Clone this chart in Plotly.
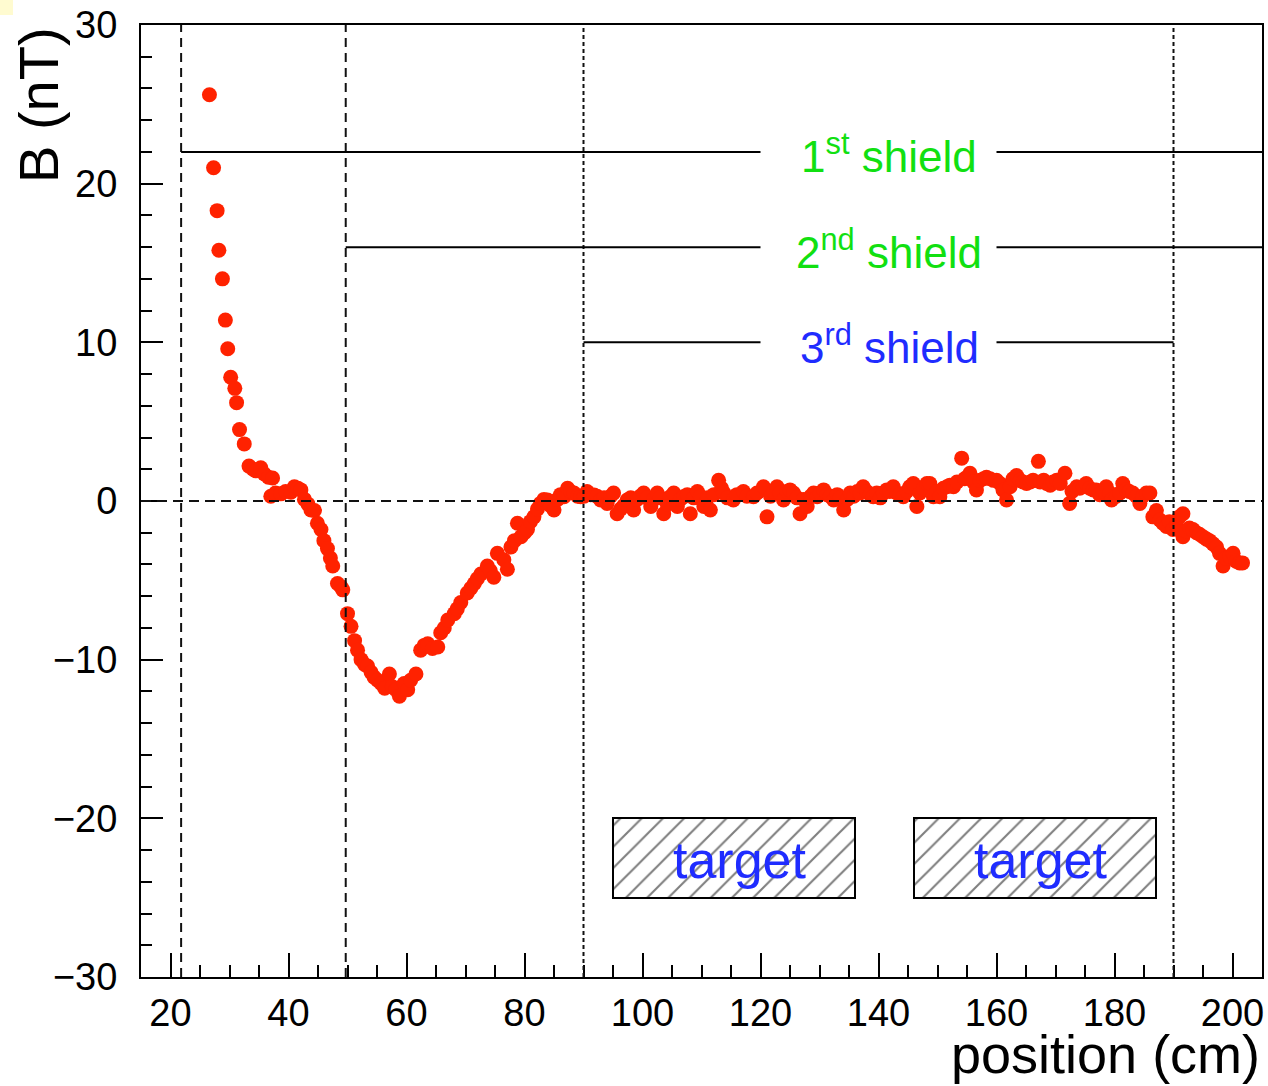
import plotly.graph_objects as go

# ---------------- data ----------------
position = [26.6, 27.3, 27.9, 28.2, 28.8, 29.3, 29.7, 30.2, 30.9, 31.2, 31.7, 32.5, 33.3, 34.0, 34.5,
            35.3, 35.9, 36.6, 37.3, 37.0, 37.8, 38.7, 39.5, 40.4, 41.0, 41.6, 42.1, 42.7, 43.3, 43.8,
            44.4, 44.9, 45.5, 46.0, 46.6, 47.1, 47.5, 48.3, 48.9, 49.2, 50.0, 50.6, 51.2, 51.7, 52.3,
            52.9, 53.4, 54.0, 54.5, 55.1, 55.7, 56.3, 57.1, 57.6, 58.2, 58.8, 59.6, 60.2, 60.7, 61.6,
            62.4, 63.0, 63.6, 64.4, 65.3, 65.8, 66.4, 67.0, 68.1, 68.6, 69.2, 70.3, 70.9, 71.5, 72.0,
            72.6, 73.7, 74.2, 74.8, 75.4, 76.5, 77.1, 77.7, 78.3, 78.8, 79.4, 80.0, 80.5, 81.0, 81.6,
            82.2, 82.7, 83.3, 83.9, 84.4, 85.0, 85.6, 86.1, 86.7, 87.3, 87.8, 88.4, 89.0, 89.5, 90.1,
            90.6, 91.2, 91.8, 92.3, 92.9, 93.5, 94.0, 94.6, 95.1, 95.7, 96.3, 96.8, 97.4, 98.0, 98.5,
            99.1, 99.6, 100.2, 100.8, 101.4, 101.9, 102.5, 103.0, 103.6, 104.2, 104.7, 105.3, 105.9,
            106.4, 107.0, 107.6, 108.1, 108.7, 109.3, 109.8, 110.4, 111.0, 111.5, 112.1, 112.9, 113.4,
            113.8, 114.4, 115.4, 116.0, 117.1, 117.7, 118.8, 119.4, 120.5, 121.1, 121.7, 122.2, 122.8,
            123.3, 123.9, 124.5, 125.0, 125.6, 126.2, 126.7, 127.3, 127.9, 128.5, 129.0, 129.6, 130.1,
            130.7, 131.3, 131.8, 132.4, 133.0, 133.5, 134.1, 134.7, 135.2, 135.8, 136.4, 136.9, 137.4,
            138.0, 138.6, 139.1, 139.7, 140.3, 140.8, 141.4, 141.9, 142.5, 143.1, 143.6, 144.2, 144.8,
            145.3, 145.9, 146.5, 147.0, 147.6, 148.2, 148.7, 149.3, 149.9, 150.4, 151.0, 151.6, 152.1,
            152.7, 153.3, 154.1, 154.6, 155.0, 155.5, 156.1, 156.6, 157.2, 157.8, 158.3, 158.9, 159.5,
            160.0, 160.6, 161.1, 161.7, 162.3, 162.8, 163.4, 164.0, 164.5, 165.1, 165.7, 166.2, 167.1,
            167.4, 168.0, 168.5, 169.1, 169.6, 170.2, 170.8, 171.6, 172.4, 172.8, 173.6, 174.1, 174.7,
            175.2, 175.8, 176.4, 176.9, 177.5, 178.1, 178.6, 179.2, 179.5, 180.3, 180.9, 181.4, 182.0,
            182.5, 183.1, 183.7, 184.3, 184.8, 185.4, 186.0, 186.5, 187.1, 187.7, 188.2, 188.8, 189.3,
            189.9, 190.5, 191.0, 191.6, 191.6, 192.2, 192.7, 193.3, 193.9, 194.4, 195.0, 195.6, 196.1,
            196.7, 197.3, 197.8, 198.4, 198.9, 199.5, 200.1, 200.6, 201.2, 201.7]
field_nT = [25.6, 21.0, 18.3, 15.8, 14.0, 11.4, 9.6, 7.8, 7.1, 6.2, 4.5, 3.6, 2.2, 2.0, 1.9,
            2.1, 1.7, 1.5, 1.45, 0.3, 0.5, 0.45, 0.6, 0.55, 0.9, 0.8, 0.7, 0.1, -0.2, -0.57,
            -0.6, -1.4, -1.8, -2.5, -3.0, -3.6, -4.1, -5.2, -5.4, -5.6, -7.1, -7.9, -8.8, -9.4, -10.0,
            -10.3, -10.4, -10.8, -11.1, -11.3, -11.5, -11.8, -10.9, -11.7, -11.9, -12.3, -11.5, -11.9, -11.3, -10.9,
            -9.4, -9.1, -9.0, -9.3, -9.2, -8.3, -8.0, -7.5, -7.1, -6.8, -6.4, -5.8, -5.5, -5.2, -4.9,
            -4.6, -4.1, -4.4, -4.8, -3.3, -3.7, -4.3, -2.9, -2.5, -1.4, -2.25, -2.0, -1.8, -1.3, -1.0,
            -0.5, -0.15, 0.1, 0.06, -0.3, -0.57, 0.1, 0.4, 0.27, 0.8, 0.6, 0.5, 0.3, 0.27, 0.3,
            0.6, 0.4, 0.38, 0.3, 0.06, 0.2, -0.15, 0.3, 0.5, -0.8, -0.5, -0.3, 0.06, 0.2, -0.57,
            0.1, 0.3, 0.5, 0.2, -0.35, 0.1, 0.5, 0.2, -0.8, -0.2, 0.27, 0.5, -0.35,
            0.1, 0.27, 0.4, -0.8, 0.2, 0.6, 0.3, -0.35, 0.2, -0.57, 0.4, 1.3, 0.8,
            0.5, 0.2, 0.06, 0.4, 0.6, 0.3, 0.27, 0.5, 0.9, -1.0, 0.3, 0.6, 0.9,
            0.5, 0.06, 0.6, 0.7, 0.5, 0.2, -0.8, 0.1, -0.35, 0.3, 0.5, 0.27, 0.5,
            0.7, 0.4, 0.3, 0.06, 0.4, 0.2, -0.57, 0.1, 0.5, 0.3, 0.6, 0.5, 0.9,
            0.6, 0.4, 0.27, 0.5, 0.2, 0.5, 0.7, 0.6, 0.9, 0.5, 0.4, 0.27, 0.6,
            0.9, 1.1, -0.35, 0.5, 0.8, 1.1, 1.1, 0.27, 0.6, 0.27, 0.8, 0.9, 1.0,
            0.9, 1.2, 2.7, 1.4, 1.5, 1.75, 1.2, 0.7, 1.3, 1.4, 1.5, 1.4, 1.3,
            1.3, 1.1, 0.7, 0.06, 0.9, 1.4, 1.6, 1.3, 1.2, 1.1, 1.2, 1.3, 2.5,
            1.2, 1.3, 1.1, 1.0, 1.2, 1.3, 1.1, 1.75, -0.15, 0.6, 0.9, 0.8, 0.9,
            1.1, 0.8, 0.7, 0.7, 0.4, 0.6, 0.9, 0.5, 0.06, 0.3, 0.5, 1.1, 0.7,
            0.6, 0.5, 0.3, -0.15, 0.3, 0.5, 0.5, -1.0, -0.6, -1.2, -1.4, -1.6, -1.3,
            -1.8, -1.5, -1.0, -0.8, -2.25, -1.9, -1.7, -1.8, -2.0, -2.1, -2.25, -2.4, -2.5,
            -2.7, -2.9, -3.3, -4.1, -3.6, -3.5, -3.3, -3.8, -3.9, -3.9]

# shield boundaries (cm) and shield line levels (nT)
shield_start = [21.8, 49.7, 90.0]
shield_end = [205.0, 205.0, 190.0]
shield_level = [22.0, 16.0, 10.0]
shield_labels = ["1<sup>st</sup> shield", "2<sup>nd</sup> shield", "3<sup>rd</sup> shield"]
shield_colors = ["#11e011", "#11e011", "#1f2cff"]
label_gap = [120.0, 160.0]
vline_pos = [21.8, 49.7, 90.0, 190.0]
vline_dash = ["9px,6px", "9px,6px", "4px,3px", "4px,3px"]

target_lo = [95.0, 146.0]
target_hi = [136.0, 187.0]
target_y = [-25.0, -20.0]

x_range = [15, 205]
y_range = [-30, 30]

fig = go.Figure()

# target boxes (hatched bars)
fig.add_trace(go.Bar(
    x=[(a + b) / 2 for a, b in zip(target_lo, target_hi)],
    y=[target_y[1] - target_y[0]] * len(target_lo),
    base=[target_y[0]] * len(target_lo),
    width=[b - a for a, b in zip(target_lo, target_hi)],
    marker=dict(color="white", line=dict(color="black", width=2),
                pattern=dict(shape="/", fgcolor="black", bgcolor="white", size=15, solidity=0.14)),
    showlegend=False, hoverinfo="skip"))

# measurements
fig.add_trace(go.Scatter(
    x=position, y=field_nT, mode="markers",
    marker=dict(color="#ff2200", size=15, symbol="circle", line=dict(width=0)),
    showlegend=False))

shapes = []
# vertical shield boundary lines
for xv, d in zip(vline_pos, vline_dash):
    shapes.append(dict(type="line", xref="x", yref="y", x0=xv, x1=xv, y0=y_range[0], y1=y_range[1],
                       line=dict(color="#111111", width=2, dash=d), layer="above"))
# zero line
shapes.append(dict(type="line", xref="x", yref="y", x0=x_range[0], x1=x_range[1], y0=0, y1=0,
                   line=dict(color="#111111", width=2, dash="10px,6px"), layer="above"))
# shield lines with a gap for the label
for s, e, lv in zip(shield_start, shield_end, shield_level):
    shapes.append(dict(type="line", xref="x", yref="y", x0=s, x1=label_gap[0], y0=lv, y1=lv,
                       line=dict(color="black", width=2)))
    shapes.append(dict(type="line", xref="x", yref="y", x0=label_gap[1], x1=e, y0=lv, y1=lv,
                       line=dict(color="black", width=2)))
# small yellow corner patch (page artifact)
shapes.append(dict(type="rect", xref="paper", yref="paper",
                   x0=-141 / 1121, x1=(13 - 141) / 1121, y0=1 + 10 / 952, y1=1 + 25 / 952,
                   fillcolor="#fffbd0", line=dict(width=0)))

annotations = []
for lab, lv, col in zip(shield_labels, shield_level, shield_colors):
    annotations.append(dict(x=141.8, y=lv, xref="x", yref="y", text=lab, showarrow=False,
                            font=dict(family="Liberation Sans, Arial", size=44, color=col),
                            xanchor="center", yanchor="middle", yshift=-2))
for a, b in zip(target_lo, target_hi):
    annotations.append(dict(x=(a + b) / 2 + 1, y=sum(target_y) / 2, xref="x", yref="y", text="target",
                            showarrow=False,
                            font=dict(family="Liberation Sans, Arial", size=52, color="#1f2cff"),
                            xanchor="center", yanchor="middle", yshift=-2))
# axis titles
annotations.append(dict(x=(38 - 141) / 1121, y=1.0, xref="paper", yref="paper", text="B (nT)",
                        textangle=-90, showarrow=False, xanchor="center", yanchor="top",
                        font=dict(family="Liberation Sans, Arial", size=56, color="black")))
annotations.append(dict(x=1.0, y=-(1086 - 977) / 952, xref="paper", yref="paper", text="position (cm)",
                        showarrow=False, xanchor="right", yanchor="bottom",
                        font=dict(family="Liberation Sans, Arial", size=54, color="black")))

tickfont = dict(family="Liberation Sans, Arial", size=38, color="black")
fig.update_layout(
    width=1268, height=1086,
    margin=dict(l=141, r=6, t=25, b=109),
    paper_bgcolor="white", plot_bgcolor="white",
    shapes=shapes, annotations=annotations,
    xaxis=dict(range=x_range, tickmode="array", tickvals=[20, 40, 60, 80, 100, 120, 140, 160, 180, 200],
               ticks="inside", ticklen=24, tickwidth=2, tickcolor="black",
               minor=dict(ticks="inside", ticklen=12, tickwidth=2, tickcolor="black", dtick=5, tick0=0),
               showline=True, linecolor="black", linewidth=2, mirror=True, showgrid=False,
               zeroline=False, tickfont=tickfont, ticklabelstandoff=1, automargin=False),
    yaxis=dict(range=y_range, tickmode="array", tickvals=[-30, -20, -10, 0, 10, 20, 30],
               ticks="inside", ticklen=22, tickwidth=2, tickcolor="black",
               minor=dict(ticks="inside", ticklen=11, tickwidth=2, tickcolor="black", dtick=2, tick0=0),
               showline=True, linecolor="black", linewidth=2, mirror=True, showgrid=False,
               zeroline=False, tickfont=tickfont, ticklabelstandoff=14, automargin=False),
    bargap=0,
)

fig.write_html("out.html", config={"displayModeBar": False},
               post_script="document.body.style.margin='0px';")
